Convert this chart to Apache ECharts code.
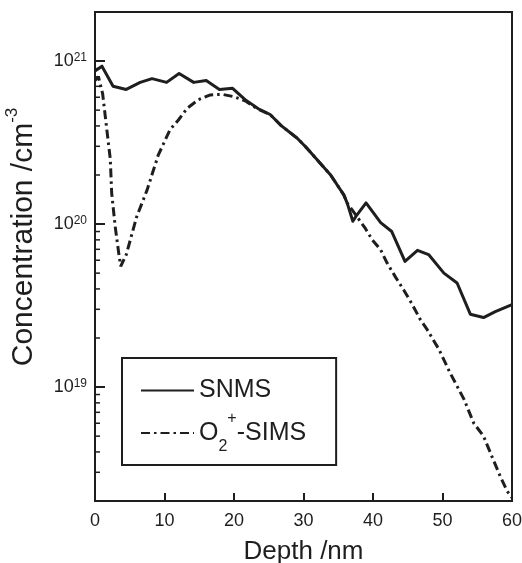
<!DOCTYPE html>
<html>
<head>
<meta charset="utf-8">
<script src="https://cdn.jsdelivr.net/npm/echarts@6/dist/echarts.min.js"></script>
<style>
html,body{margin:0;padding:0;background:#fff;}
#c{width:522px;height:563px;}
</style>
</head>
<body>
<div id="c"></div>
<script>
// ---- data ----
const snmsDepth = [0, 1.0, 2.6, 4.5, 6.5, 8.2, 10.3, 12.1, 14.2, 16.0, 17.9, 19.8, 21.6, 23.5, 25.2, 26.7, 29.1, 30.3, 31.9, 33.9, 35.8, 36.3, 37.1, 37.7, 39.0, 41.1, 42.7, 44.6, 46.4, 48.0, 50.2, 52.1, 54.0, 55.9, 57.6, 60];
const snmsConc = [8.7e20, 9.3e20, 7.0e20, 6.7e20, 7.4e20, 7.8e20, 7.4e20, 8.4e20, 7.4e20, 7.6e20, 6.7e20, 6.8e20, 5.8e20, 5.1e20, 4.7e20, 4.05e20, 3.36e20, 2.98e20, 2.5e20, 2.0e20, 1.51e20, 1.34e20, 1.04e20, 1.14e20, 1.35e20, 1.02e20, 9.0e19, 5.9e19, 6.9e19, 6.5e19, 5.0e19, 4.35e19, 2.8e19, 2.67e19, 2.9e19, 3.2e19];

const simsDepth = [0, 0.5, 1.1, 1.7, 2.2, 2.4, 2.9, 3.4, 3.7, 4.5, 6.0, 7.5, 9.1, 10.8, 12.0, 13.3, 14.9, 16.6, 18.3, 19.9, 21.6, 23.5, 25.2, 26.7, 29.1, 30.3, 31.9, 33.9, 35.8, 36.3, 37.7, 38.9, 39.9, 41.1, 42.0, 43.2, 44.4, 45.6, 46.8, 47.8, 49.5, 51.1, 53.1, 54.5, 55.9, 57.1, 58.3, 59.3, 60];
const simsConc = [7.6e20, 8.0e20, 6.3e20, 3.8e20, 2.5e20, 1.55e20, 9.7e19, 6.7e19, 5.5e19, 6.5e19, 1.11e20, 1.62e20, 2.65e20, 3.8e20, 4.35e20, 5.15e20, 5.8e20, 6.2e20, 6.25e20, 6.06e20, 5.7e20, 5.06e20, 4.7e20, 4.05e20, 3.36e20, 2.98e20, 2.5e20, 2.0e20, 1.51e20, 1.34e20, 1.11e20, 9.4e19, 8.0e19, 6.95e19, 5.8e19, 4.76e19, 3.95e19, 3.24e19, 2.6e19, 2.25e19, 1.7e19, 1.22e19, 8.4e18, 6.0e18, 5.0e18, 3.76e18, 2.84e18, 2.3e18, 2.1e18];

const xTicks = [0, 10, 20, 30, 40, 50, 60];
const yMajorExponents = [19, 20, 21];
const yMinorTicks = [3e18, 4e18, 5e18, 6e18, 7e18, 8e18, 9e18,
  2e19, 3e19, 4e19, 5e19, 6e19, 7e19, 8e19, 9e19,
  2e20, 3e20, 4e20, 5e20, 6e20, 7e20, 8e20, 9e20];

const seriesNames = ['SNMS', 'O2+-SIMS'];
// ---------------------------------------

const FONT = '"Liberation Sans", Arial, Helvetica, sans-serif';
const INK = '#1e1e1e';

function zip(a, b) { return a.map((v, i) => [v, b[i]]); }

const chart = echarts.init(document.getElementById('c'), null, {renderer: 'canvas'});

const option = {
  backgroundColor: '#fff',
  animation: false,
  grid: {
    left: 95, right: 10, top: 12, bottom: 62,
    containLabel: false,
    outerBoundsMode: 'none',
    show: true, borderColor: INK, borderWidth: 2, backgroundColor: 'transparent'
  },
  xAxis: {
    type: 'value',
    min: xTicks[0], max: xTicks[xTicks.length - 1], interval: 10,
    name: 'Depth /nm',
    nameLocation: 'middle',
    nameGap: 38,
    nameTextStyle: {fontFamily: FONT, fontSize: 26, color: INK},
    axisLine: {lineStyle: {color: INK, width: 2}},
    axisTick: {inside: true, length: 8, lineStyle: {color: INK, width: 2}},
    axisLabel: {fontFamily: FONT, fontSize: 18, color: INK, margin: 11},
    splitLine: {show: false}
  },
  yAxis: {
    type: 'log',
    logBase: 10,
    min: 2e18, max: 2e21,
    axisLine: {lineStyle: {color: INK, width: 2}},
    axisTick: {inside: true, length: 10, lineStyle: {color: INK, width: 2},
      customValues: yMajorExponents.map(e => Math.pow(10, e))},
    axisLabel: {
      customValues: yMajorExponents.map(e => Math.pow(10, e)),
      margin: 8,
      formatter: function (v) {
        const e = Math.round(Math.log10(v));
        if (Math.abs(Math.log10(v) - e) > 1e-6) return '';
        return '{b|10}{s|' + e + '}';
      },
      rich: {
        b: {fontFamily: FONT, fontSize: 18, lineHeight: 18, color: INK, verticalAlign: 'middle'},
        s: {fontFamily: FONT, fontSize: 12, lineHeight: 12, color: INK, verticalAlign: 'top'}
      }
    },
    splitLine: {show: false},
    minorTick: {show: false}
  },
  legend: {
    data: seriesNames,
    orient: 'vertical',
    left: 122, top: 358,
    padding: [20, 30, 10, 18],
    itemGap: 8,
    itemWidth: 53, itemHeight: 14,
    borderColor: INK, borderWidth: 2,
    selectedMode: false,
    itemStyle: {opacity: 0},
    textStyle: {
      fontFamily: FONT, fontSize: 25, color: INK,
      rich: {
        n: {fontFamily: FONT, fontSize: 25, lineHeight: 30, color: INK, verticalAlign: 'middle'},
        o: {fontFamily: FONT, fontSize: 25, lineHeight: 44, color: INK, verticalAlign: 'middle'},
        sub: {fontFamily: FONT, fontSize: 16, lineHeight: 4, color: INK, verticalAlign: 'bottom'},
        sup: {fontFamily: FONT, fontSize: 16, lineHeight: 30, color: INK, verticalAlign: 'top'}
      }
    },
    formatter: function (name) {
      if (name === 'SNMS') return '{n|SNMS}';
      return '{o|O}{sub|2}{sup|+}{o|-SIMS}';
    }
  },
  graphic: [{
    type: 'text',
    x: 24, y: 237,
    rotation: Math.PI / 2,
    style: {
      text: '{m|Concentration /cm}{s|-3}',
      align: 'center', verticalAlign: 'middle',
      rich: {
        m: {fontFamily: FONT, fontSize: 30, lineHeight: 40, fill: INK, verticalAlign: 'middle'},
        s: {fontFamily: FONT, fontSize: 17, lineHeight: 17, fill: INK, verticalAlign: 'top'}
      }
    }
  }],
  series: [
    {
      name: seriesNames[0],
      type: 'line',
      data: zip(snmsDepth, snmsConc),
      symbol: 'none',
      showSymbol: false,
      lineStyle: {color: INK, width: 3, type: 'solid', join: 'round'},
      itemStyle: {color: INK},
      z: 3
    },
    {
      name: seriesNames[1],
      type: 'line',
      data: zip(simsDepth, simsConc),
      symbol: 'none',
      showSymbol: false,
      lineStyle: {color: INK, width: 3, type: [9, 4, 2.5, 4], cap: 'butt'},
      itemStyle: {color: INK},
      z: 2
    },
    {
      name: 'minorTicks',
      type: 'custom',
      silent: true,
      clip: false,
      data: yMinorTicks.map(v => [0, v]),
      renderItem: function (params, api) {
        const p = api.coord([api.value(0), api.value(1)]);
        return {
          type: 'line',
          shape: {x1: p[0], y1: p[1], x2: p[0] + 5, y2: p[1]},
          style: {stroke: INK, lineWidth: 1.5}
        };
      },
      z: 4
    }
  ]
};

chart.setOption(option);
</script>
</body>
</html>
